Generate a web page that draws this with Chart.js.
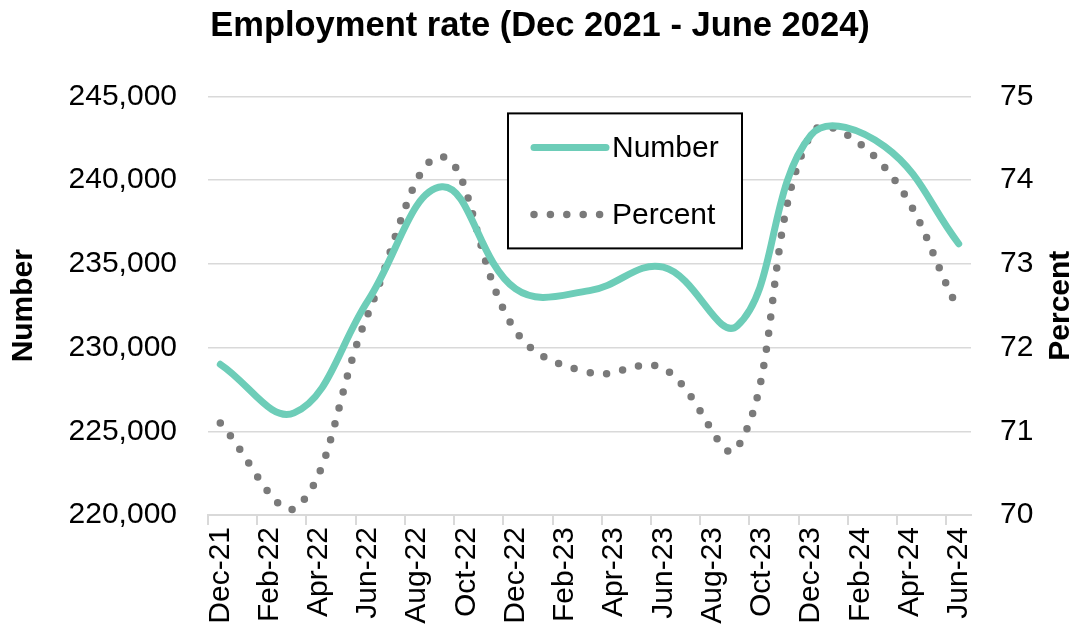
<!DOCTYPE html>
<html>
<head>
<meta charset="utf-8">
<title>Employment rate</title>
<script src="https://cdn.jsdelivr.net/npm/chart.js@4.4.1/dist/chart.umd.min.js"></script>
<style>
    html, body { margin: 0; padding: 0; background: #ffffff; }
    #wrap { width: 1080px; height: 636px; }
</style>
</head>
<body>
<div id="wrap"><canvas id="employmentChart" width="1080" height="636"></canvas></div>
<script>
// monthly category axis, labels shown every second month
const months = [
    'Dec-21', 'Jan-22', 'Feb-22', 'Mar-22', 'Apr-22', 'May-22', 'Jun-22', 'Jul-22',
    'Aug-22', 'Sep-22', 'Oct-22', 'Nov-22', 'Dec-22', 'Jan-23', 'Feb-23', 'Mar-23',
    'Apr-23', 'May-23', 'Jun-23', 'Jul-23', 'Aug-23', 'Sep-23', 'Oct-23', 'Nov-23',
    'Dec-23', 'Jan-24', 'Feb-24', 'Mar-24', 'Apr-24', 'May-24', 'Jun-24'
];

// quarterly observations
const sampleMonths = [
    'Dec-21', 'Mar-22', 'Jun-22', 'Sep-22', 'Dec-22', 'Mar-23',
    'Jun-23', 'Sep-23', 'Dec-23', 'Mar-24', 'Jun-24'
];
const numberValues = [229000, 226100, 232800, 239600, 233500, 233400, 234800, 231300, 242700, 242000, 236200];
const percentValues = [71.1, 70.07, 72.4, 74.28, 72.2, 71.7, 71.75, 70.8, 74.55, 74.15, 72.45];

const numberTicks = [220000, 225000, 230000, 235000, 240000, 245000];
const percentTicks = [70, 71, 72, 73, 74, 75];

const FONT = '"Liberation Sans", Arial, sans-serif';
const teal = '#6dcdb8';
const grey = '#7a7a7a';
const gridGrey = '#d9d9d9';

function toPoints(values) {
    return sampleMonths.map((m, i) => ({ x: m, y: values[i] }));
}

// legend box drawn inside the plot, like the original
const innerLegend = {
    id: 'innerLegend',
    afterDraw(chart) {
        const { ctx, chartArea } = chart;
        const x = chartArea.left + 300;
        const y = chartArea.top + 17;
        const w = 234;
        const h = 135;
        ctx.save();
        ctx.fillStyle = '#ffffff';
        ctx.fillRect(x, y, w, h);
        ctx.strokeStyle = '#000000';
        ctx.lineWidth = 2;
        ctx.strokeRect(x, y, w, h);

        const rows = [
            { ds: chart.data.datasets[0], y: y + 34 },
            { ds: chart.data.datasets[1], y: y + 101 }
        ];
        rows.forEach(row => {
            ctx.beginPath();
            ctx.strokeStyle = row.ds.borderColor;
            ctx.lineWidth = row.ds.borderWidth;
            ctx.lineCap = 'round';
            ctx.setLineDash(row.ds.borderDash || []);
            ctx.moveTo(x + 26, row.y);
            ctx.lineTo(x + 98, row.y);
            ctx.stroke();
            ctx.setLineDash([]);
            ctx.fillStyle = '#000000';
            ctx.font = '30px ' + FONT;
            ctx.textBaseline = 'middle';
            ctx.textAlign = 'left';
            ctx.fillText(row.ds.label, x + 104, row.y + 1);
        });
        ctx.restore();
    }
};

// right axis title reads bottom-to-top in the original
const rightTitle = {
    id: 'rightTitle',
    afterDraw(chart) {
        const { ctx, chartArea } = chart;
        ctx.save();
        ctx.translate(chart.width - 19, (chartArea.top + chartArea.bottom) / 2);
        ctx.rotate(-Math.PI / 2);
        ctx.fillStyle = '#000000';
        ctx.font = 'bold 30px ' + FONT;
        ctx.textAlign = 'center';
        ctx.textBaseline = 'middle';
        ctx.fillText('Percent', 0, 0);
        ctx.restore();
    }
};

const ctx = document.getElementById('employmentChart').getContext('2d');
const employmentChart = new Chart(ctx, {
    type: 'line',
    data: {
        labels: months,
        datasets: [{
            label: 'Number',
            data: toPoints(numberValues),
            yAxisID: 'yNumber',
            borderColor: teal,
            borderWidth: 7,
            borderCapStyle: 'round',
            pointRadius: 0,
            tension: 0.4,
            spanGaps: true,
            fill: false
        }, {
            label: 'Percent',
            data: toPoints(percentValues),
            yAxisID: 'yPercent',
            borderColor: grey,
            borderWidth: 7.5,
            borderDash: [0, 16.4],
            borderCapStyle: 'round',
            pointRadius: 0,
            tension: 0.4,
            spanGaps: true,
            fill: false
        }]
    },
    options: {
        responsive: false,
        animation: false,
        layout: { padding: 0 },
        plugins: {
            legend: { display: false },
            tooltip: { enabled: false },
            title: {
                display: true,
                text: 'Employment rate (Dec 2021 - June 2024)',
                color: '#000000',
                font: { family: FONT, size: 34.5, weight: 'bold' },
                padding: { top: 6, bottom: 49 }
            }
        },
        scales: {
            x: {
                type: 'category',
                offset: true,
                grid: {
                    offset: true,
                    drawOnChartArea: false,
                    tickLength: 10,
                    lineWidth: 2,
                    color: c => (c.index % 2 === 0 ? gridGrey : 'rgba(0,0,0,0)')
                },
                border: { color: gridGrey, width: 2 },
                ticks: {
                    autoSkip: false,
                    maxRotation: 90,
                    minRotation: 90,
                    padding: 2,
                    color: '#000000',
                    font: { family: FONT, size: 30 },
                    callback: function (value, index) {
                        return index % 2 === 0 ? months[index] : '';
                    }
                },
                afterFit: scale => { scale.height = 121; }
            },
            yNumber: {
                position: 'left',
                min: numberTicks[0],
                max: numberTicks[numberTicks.length - 1],
                afterBuildTicks: scale => {
                    scale.ticks = numberTicks.map(v => ({ value: v }));
                },
                grid: { color: gridGrey, lineWidth: 1.5, drawTicks: false },
                border: { display: false },
                ticks: {
                    padding: 31,
                    color: '#000000',
                    font: { family: FONT, size: 30 },
                    callback: v => v.toLocaleString('en-US')
                },
                title: {
                    display: true,
                    text: 'Number',
                    color: '#000000',
                    font: { family: FONT, size: 30, weight: 'bold' },
                    padding: { top: 6, bottom: 0 }
                },
                afterFit: scale => { scale.width = 208; }
            },
            yPercent: {
                position: 'right',
                min: percentTicks[0],
                max: percentTicks[percentTicks.length - 1],
                afterBuildTicks: scale => {
                    scale.ticks = percentTicks.map(v => ({ value: v }));
                },
                grid: { display: false, drawTicks: false },
                border: { display: false },
                ticks: {
                    padding: 29,
                    color: '#000000',
                    font: { family: FONT, size: 30 }
                },
                afterFit: scale => { scale.width = 109; }
            }
        }
    },
    plugins: [innerLegend, rightTitle]
});
</script>
</body>
</html>
